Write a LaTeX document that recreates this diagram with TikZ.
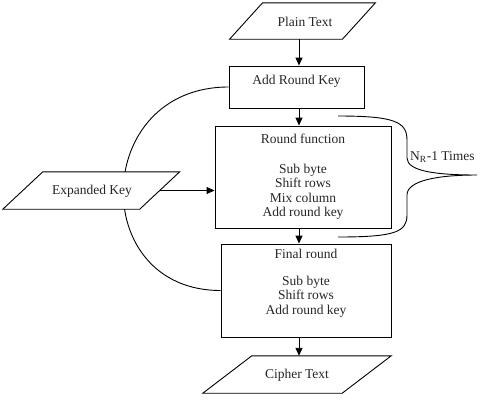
\documentclass[tikz,border=0pt]{standalone}
\usepackage{fontspec}
\setmainfont{Liberation Serif}
\usetikzlibrary{positioning,calc,arrows.meta}

\tikzset{
    flowbox/.style={draw, line width=0.9pt, minimum width=#1, inner sep=0pt, align=center},
    iotext/.style={inner sep=0pt, align=center},
    flowarrow/.style={line width=0.9pt, -{Triangle[length=8pt,width=7pt]}},
    every node/.style={font=\fontsize{13.5}{14.5}\selectfont, text=black!85}
}

% slanted input/output box round a named node
\newcommand{\slantbox}[2]{%
    \draw[line width=0.9pt, fill=white] ($(#1.north west)+(#2,0)$) -- ($(#1.north east)+(#2,0)$)
        -- ($(#1.south east)-(#2,0)$) -- ($(#1.south west)-(#2,0)$) -- cycle;}

\begin{document}
\begin{tikzpicture}[x=1pt,y=-1pt]
        \useasboundingbox (0,0) rectangle (488,400);
        \coordinate (col) at (299,0);

        % Main column
        \node[flowbox=135pt, minimum height=42pt, text depth=14pt] (addkey) at (296.5,87) {Add Round Key};
        \node[flowbox=176pt, minimum height=102pt] (roundf) at (303,177)
            {Round function\\[15pt] Sub byte\\ Shift rows\\ Mix column\\ Add round key};
        \node[flowbox=170pt, minimum height=93pt, text depth=17pt] (finalr) at (306,290.5)
            {Final round\\[12pt] Sub byte\\ Shift rows\\ Add round key};

        % Key schedule loop (behind the key box)
        \draw[line width=0.9pt] (addkey.west) .. controls +(-137,0) and +(-133,0) .. (finalr.west);

        % Input / output boxes
        \node[iotext, minimum width=112.5pt, minimum height=36pt] (plain) at (302.5,21) {};
        \slantbox{plain}{16.5pt}
        \node at (305,22) {Plain Text};

        \node[iotext, minimum width=136.5pt, minimum height=37pt] (expkey) at (91.25,190.5) {};
        \slantbox{expkey}{20pt}
        \node at (92,191) {Expanded Key};

        \node[iotext, minimum width=139pt, minimum height=37pt] (cipher) at (297,374.5) {};
        \slantbox{cipher}{24.5pt}
        \node at (297,375) {Cipher Text};

        % Arrows
        \draw[flowarrow] (plain.south -| col) -- (addkey.north -| col);
        \draw[flowarrow] (addkey.south -| col) -- (roundf.north -| col);
        \draw[flowarrow] (roundf.south -| col) -- (finalr.north -| col);
        \draw[flowarrow] (finalr.south -| col) -- (cipher.north -| col);
        \draw[flowarrow] (expkey.east) -- (expkey.east -| roundf.west);

        % Repetition brace
        \coordinate (bracetop) at (338,116);
        \coordinate (bracebot) at (338,237);
        \coordinate (bracetip) at (477,175);
        \draw[line width=0.9pt] (bracetop) .. controls (395,116) and (407,122) .. (407,140) -- (407,158)
            .. controls (407,172) and (440,175) .. (bracetip)
            .. controls (440,175) and (407,180) .. (407,195) -- (407,215)
            .. controls (407,232) and (395,237) .. (bracebot);
        \node[anchor=west, inner sep=0pt] (times) at (410,157) {N$_{\mathrm{R}}$-1 Times};
    \end{tikzpicture}
\end{document}
